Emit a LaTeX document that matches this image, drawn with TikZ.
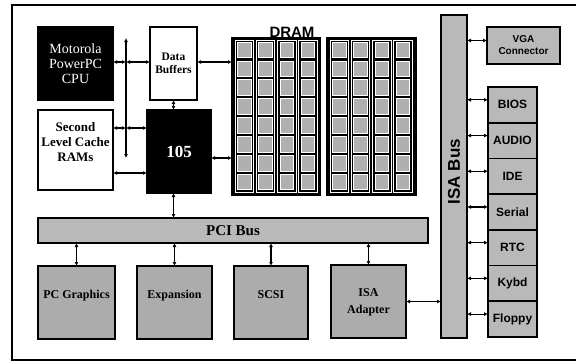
\documentclass[tikz,border=0pt]{standalone}
\usepackage{fontspec}
\setmainfont{Liberation Serif}
\setsansfont{Liberation Sans}
\usetikzlibrary{arrows.meta}
\begin{document}
\begin{tikzpicture}[x=1pt,y=-1pt,
  box/.style={draw=black, line width=1.2pt, inner sep=0pt, outer sep=0pt, anchor=north west, align=center},
  blackbox/.style={box, fill=black, text=white},
  whitebox/.style={box, fill=white, font=\bfseries\fontsize{11.5}{13}\selectfont},
  graybox/.style={box, fill=gray!55, line width=1.8pt},
  darkbox/.style={box, fill=gray!65, line width=1.8pt, font=\bfseries\fontsize{12}{16}\selectfont, text depth=16pt},
  itembox/.style={box, fill=gray!55, line width=1.8pt, minimum width=49pt, minimum height=35.7pt, font=\sffamily\bfseries\fontsize{12}{12}\selectfont},
  conn/.style={{Latex[length=4pt,width=4pt]}-{Latex[length=4pt,width=4pt]}, line width=1.1pt},
  chip/.style={fill=gray!62, draw=white, line width=0.7pt}
]
\useasboundingbox (0,0) rectangle (576,362);
% frame
\draw[line width=2.2pt] (576,5) -- (12,5) -- (12,360) -- (576,360);

% top-left group
\node[blackbox, minimum width=75pt, minimum height=73pt, font=\fontsize{14}{15}\selectfont] (cpu) at (38,27) {Motorola\\PowerPC\\CPU};
\node[whitebox, minimum width=47pt, minimum height=73pt] (dbuf) at (150,27) {Data\\Buffers};
\node[whitebox, minimum width=75pt, minimum height=80pt, font=\bfseries\fontsize{13}{15}\selectfont, text depth=16pt] (cache) at (38,110) {Second\\Level Cache\\RAMs};
\node[blackbox, minimum width=64pt, minimum height=83pt, font=\bfseries\fontsize{17}{17}\selectfont] (c105) at (147,110) {105};

% DRAM
\node[blackbox, minimum width=88pt, minimum height=157pt] (bank1) at (232,38) {};
\node[blackbox, minimum width=89pt, minimum height=157pt] (bank2) at (327,38) {};
\node[anchor=base, font=\sffamily\bfseries\fontsize{15}{15}\selectfont, inner sep=0pt] (dramlbl) at (292,37.5) {DRAM};
\foreach \bx in {232,327}{
  \foreach \i in {0,1,2,3}{
    \pgfmathsetmacro{\cx}{\bx+3+\i*21.25}
    \draw[white, line width=0.8pt] (\cx,40.5) rectangle (\cx+18.5,192.5);
    \foreach \j in {0,...,7}{
      \pgfmathsetmacro{\cy}{42+\j*18.9}
      \draw[chip] (\cx+2.5,\cy) rectangle (\cx+16,\cy+15.5);
    }
  }
}

% PCI bus
\node[graybox, minimum width=390pt, minimum height=25pt, font=\bfseries\fontsize{15}{15}\selectfont] (pci) at (38,218) {PCI Bus};

% bottom boxes
\node[darkbox, minimum width=77pt, minimum height=73pt] (pcg) at (38,266) {PC Graphics};
\node[darkbox, minimum width=75pt, minimum height=73pt] (expn) at (137,266) {Expansion};
\node[darkbox, minimum width=74pt, minimum height=73pt] (scsi) at (234,266) {SCSI};
\node[darkbox, minimum width=75pt, minimum height=73pt, text depth=1pt, font=\bfseries\fontsize{12}{17}\selectfont] (isaad) at (331,265) {ISA\\Adapter};

% ISA bus
\node[graybox, minimum width=26pt, minimum height=323pt, text depth=10pt, font=\sffamily\bfseries\fontsize{17}{17}\selectfont] (isa) at (441,15) {\rotatebox{90}{ISA Bus}};

% right side
\node[graybox, minimum width=73pt, minimum height=37pt, font=\sffamily\bfseries\fontsize{10}{12}\selectfont] (vga) at (487,27) {VGA\\Connector};
\node[itembox] (bios) at (488,87) {BIOS};
\node[itembox] (audio) at (488,122.7) {AUDIO};
\node[itembox] (ide) at (488,158.4) {IDE};
\node[itembox] (serial) at (488,194.1) {Serial};
\node[itembox] (rtc) at (488,229.8) {RTC};
\node[itembox] (kybd) at (488,265.5) {Kybd};
\node[itembox] (floppy) at (488,301.2) {Floppy};

% left vertical bus and connections
\coordinate (vtop) at (126,38);
\coordinate (vbot) at (126,158);
\coordinate (j1) at (126,62);
\coordinate (j2) at (126,128);
\coordinate (j3) at (126,173);
\draw[conn] (vtop) -- (vbot);
\draw[conn] (cpu.east |- j1) -- (j1);
\draw[conn] (j1) -- (dbuf.west |- j1);
\draw[conn] (cache.east |- j2) -- (j2);
\draw[conn] (j2) -- (c105.west |- j2);
\draw[conn] (cache.east |- j3) -- (c105.west |- j3);
\draw[conn] (dbuf.south) -- (dbuf.south |- c105.north);
\draw[conn] (dbuf.east |- j1) -- (bank1.west |- j1);
\draw[conn] (c105.east |- vbot) -- (bank1.west |- vbot);
\draw[conn] (c105.south -| dbuf.south) -- (pci.north -| dbuf.south);

% PCI to boxes
\foreach \b in {pcg,expn,scsi,isaad}{
  \draw[conn] (pci.south -| \b.north) -- (\b.north);
}
\draw[conn] (isaad.east) -- (isaad.east -| isa.west);

% ISA bus to devices
\foreach \n in {vga,bios,audio,ide,serial,rtc,kybd,floppy}{
  \path ([yshift=5pt]\n.west) coordinate (p\n);
  \draw[conn] (p\n -| isa.east) -- (p\n);
}
\end{tikzpicture}
\end{document}
